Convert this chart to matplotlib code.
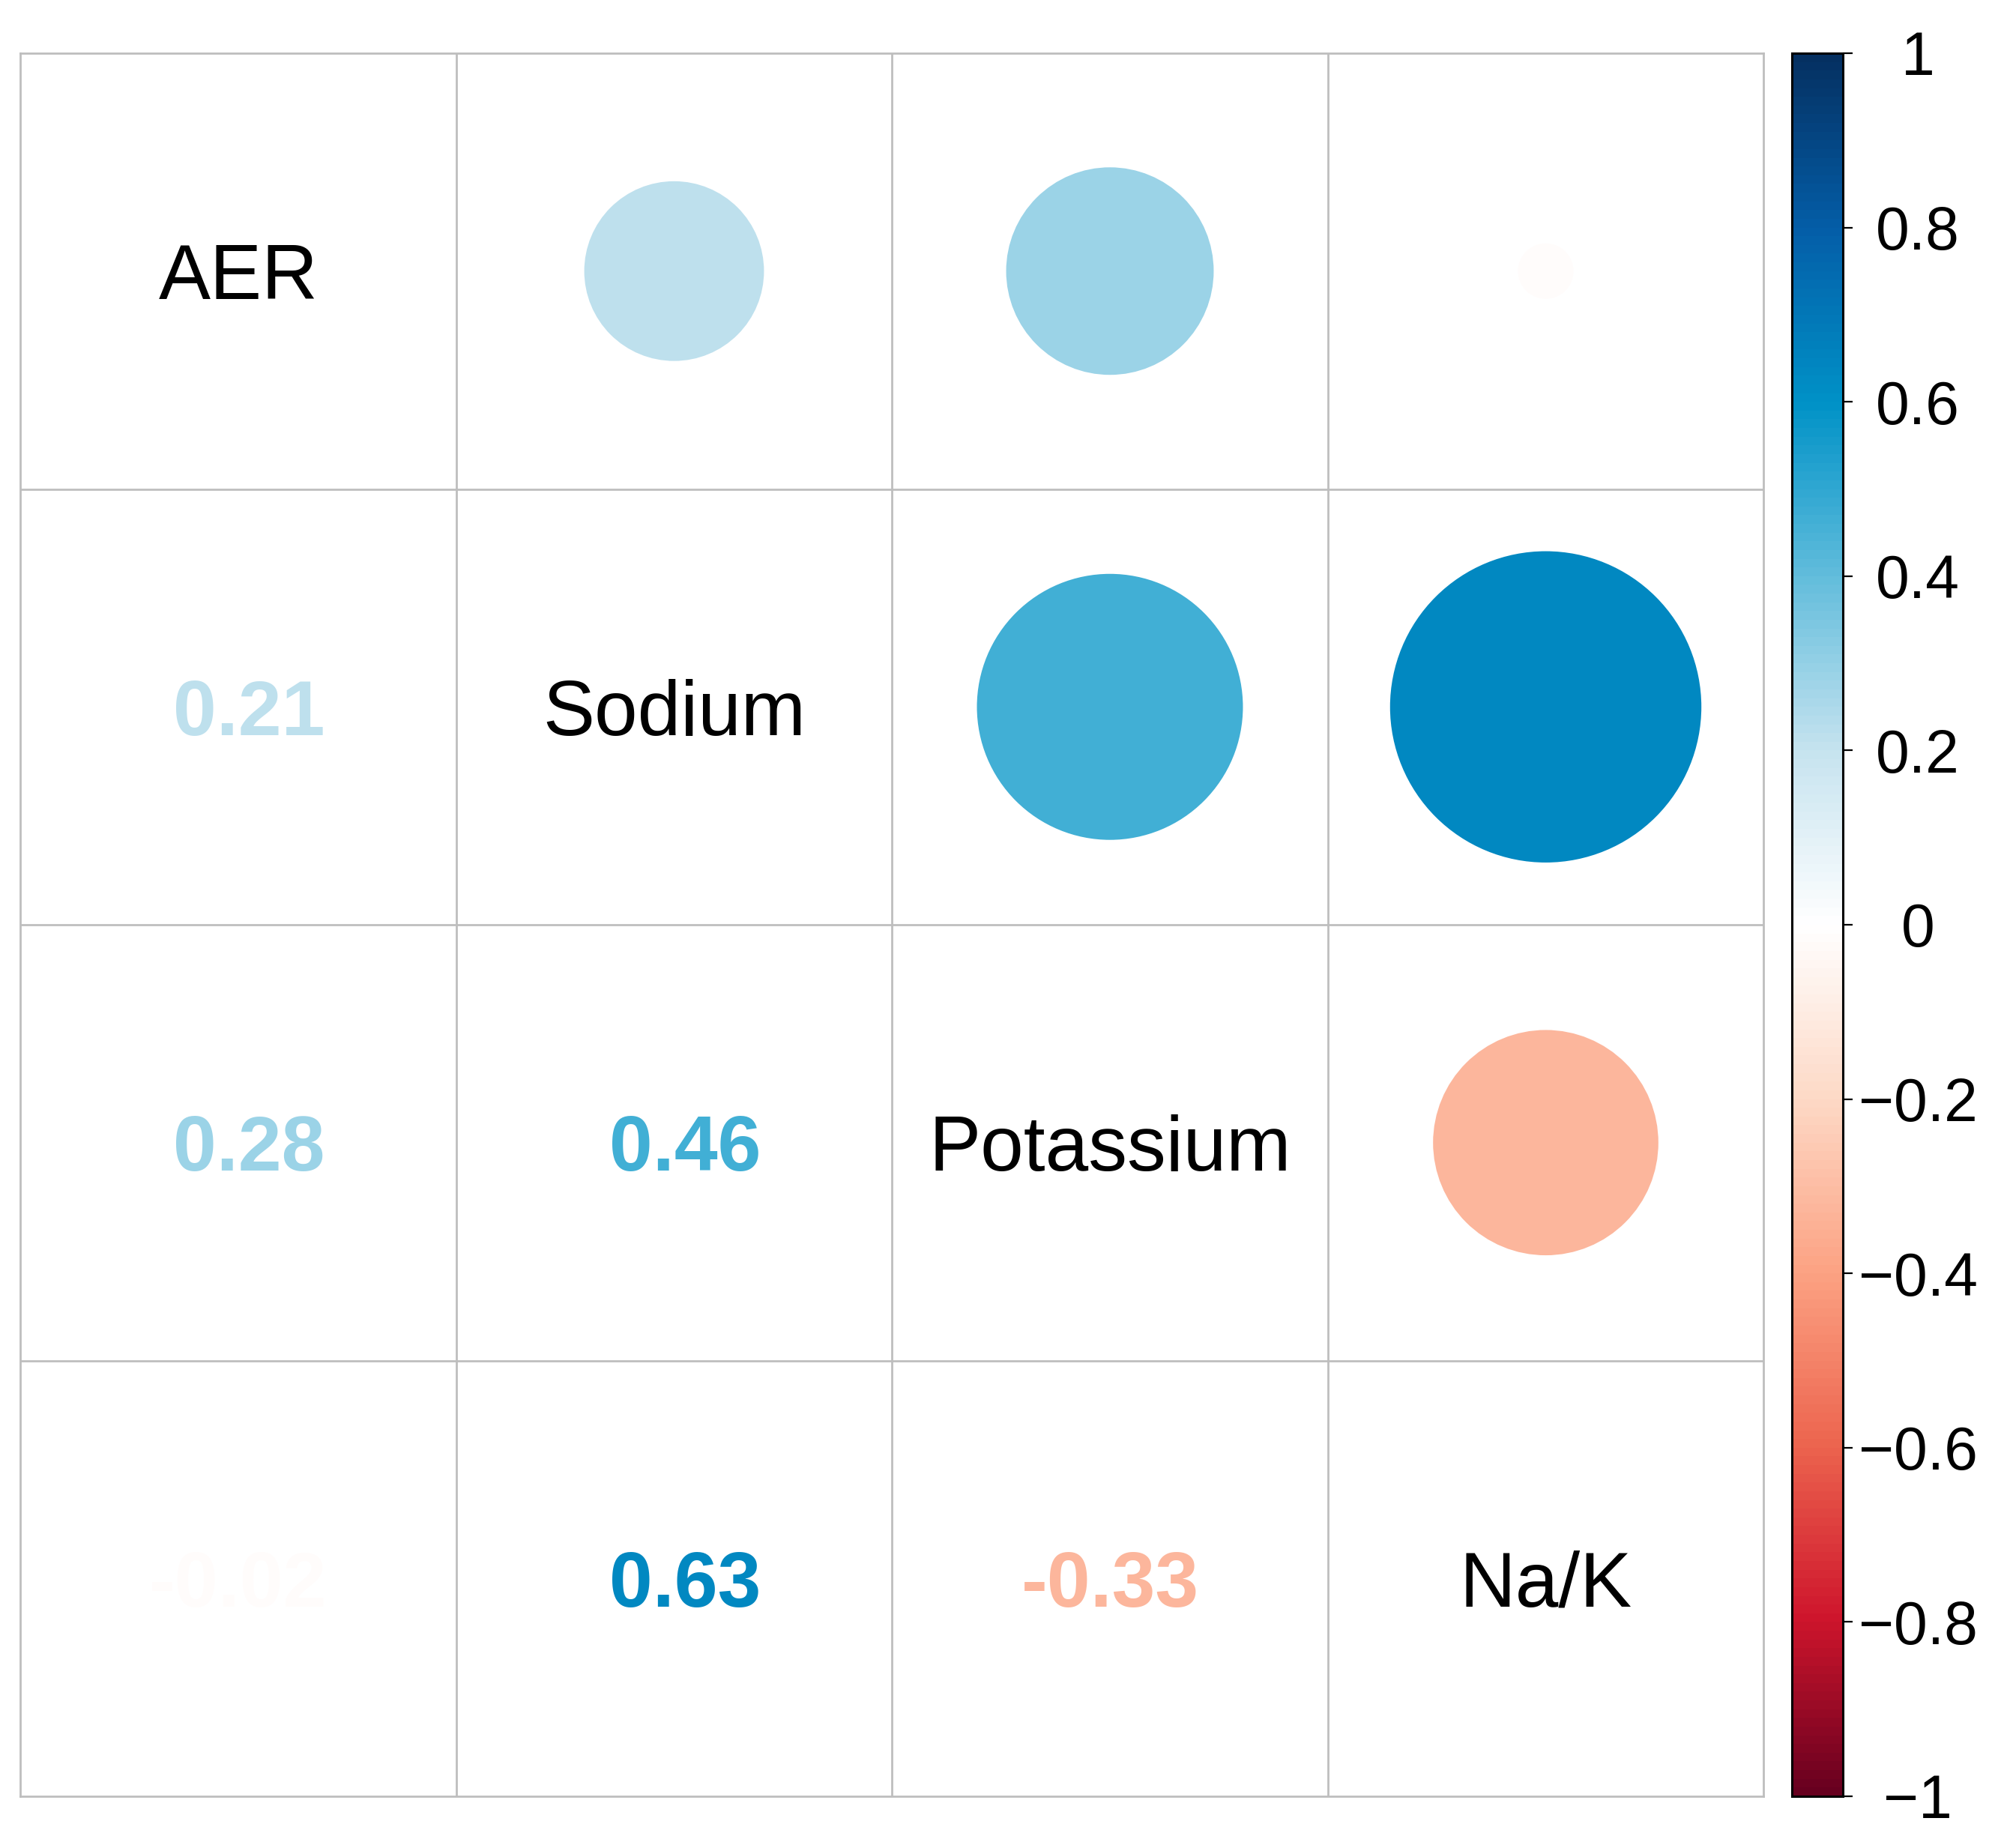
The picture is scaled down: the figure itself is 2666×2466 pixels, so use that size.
import numpy as np
import matplotlib
matplotlib.use("Agg")
import matplotlib.pyplot as plt
from matplotlib.colors import LinearSegmentedColormap, Normalize
from matplotlib.cm import ScalarMappable
from matplotlib.patches import Circle

# variables and correlation matrix
names = ["AER", "Sodium", "Potassium", "Na/K"]
row_aer = [1.00, 0.21, 0.28, -0.02]
row_na = [0.21, 1.00, 0.46, 0.63]
row_k = [0.28, 0.46, 1.00, -0.33]
row_nak = [-0.02, 0.63, -0.33, 1.00]
corr = np.array([row_aer, row_na, row_k, row_nak])

cbar_ticks = [-1, -0.8, -0.6, -0.4, -0.2, 0, 0.2, 0.4, 0.6, 0.8, 1]

# red-white-blue palette like corrplot
anchors = [
    (0.0, "#67001F"),
    (0.1, "#CE152C"),
    (0.2, "#EC644E"),
    (0.3, "#FCA283"),
    (0.4, "#FDD9C6"),
    (0.5, "#FFFFFF"),
    (0.6, "#C6E3EF"),
    (0.7, "#62BDDC"),
    (0.8, "#0092C7"),
    (0.9, "#045EA8"),
    (1.0, "#053061"),
]
cmap = LinearSegmentedColormap.from_list("corr_rdbu", anchors, N=200)
norm = Normalize(vmin=-1, vmax=1)

plt.rcParams["font.family"] = ["Liberation Sans", "DejaVu Sans"]

W, H = 2666, 2466
fig = plt.figure(figsize=(W / 100, H / 100), dpi=100)

ax = fig.add_axes([25.5 / W, 1 - 2397 / H, 2329.5 / W, 2326 / H])
n = len(names)
ax.set_xlim(0, n)
ax.set_ylim(n, 0)
ax.set_aspect("equal")
ax.set_xticks([])
ax.set_yticks([])
grid_col = "#BEBEBE"
for s in ax.spines.values():
    s.set_color(grid_col)
    s.set_linewidth(2)
for k in range(1, n):
    ax.axhline(k, color=grid_col, lw=2)
    ax.axvline(k, color=grid_col, lw=2)

for i in range(n):
    for j in range(n):
        v = corr[i, j]
        cx, cy = j + 0.5, i + 0.5
        if i == j:
            ax.text(cx, cy, names[i], ha="center", va="center_baseline",
                    fontsize=74.5, color="black")
        elif j > i:
            r = 0.45 * np.sqrt(abs(v))
            ax.add_patch(Circle((cx, cy), r, facecolor=cmap(norm(v)),
                                edgecolor="none"))
        else:
            # padded like R's format(): positives get a leading space
            ax.text(cx, cy, f"{v:5.2f}", ha="center", va="center_baseline",
                    fontsize=75, fontweight="bold", color=cmap(norm(v)))

# colour legend
cax = fig.add_axes([2391 / W, 1 - 2397 / H, 68 / W, 2326 / H])
sm = ScalarMappable(norm=norm, cmap=cmap)
cb = fig.colorbar(sm, cax=cax, ticks=cbar_ticks)
cb.outline.set_edgecolor("black")
cb.outline.set_linewidth(2.2)
cb.ax.set_yticklabels([f"{t:g}".replace("-", "\u2212") for t in cbar_ticks])
cb.ax.tick_params(axis="y", length=9, width=1.6, color="black",
                  labelsize=58, pad=63)
for lab in cb.ax.get_yticklabels():
    lab.set_horizontalalignment("center")

fig.savefig("out.png", dpi=100, facecolor="white")
